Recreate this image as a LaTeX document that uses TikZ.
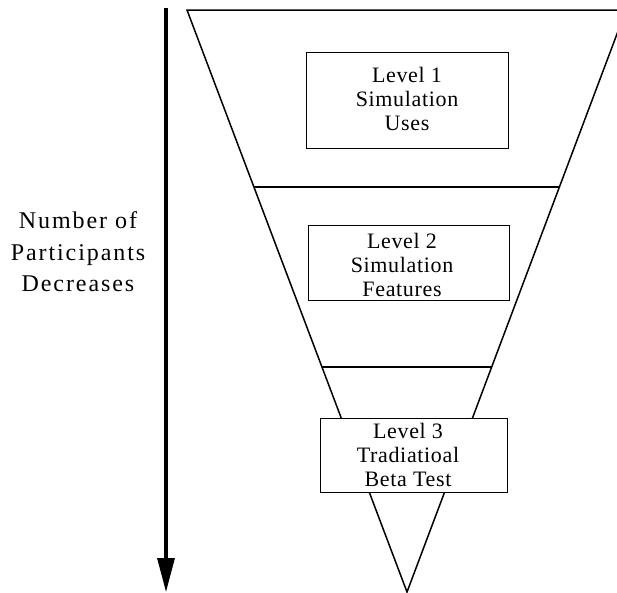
\documentclass[tikz,border=0pt]{standalone}
\usepackage{fontspec}
\setmainfont{Liberation Serif}
\newfontfamily\boxfont[LetterSpace=3]{Liberation Serif}
\newfontfamily\sidefont[LetterSpace=8]{Liberation Serif}
\usetikzlibrary{calc,arrows.meta}
\tikzset{
  levelbox/.style={draw, line width=1.3pt, fill=white, inner sep=0pt, anchor=north west},
  leveltext/.style={align=center, inner sep=0pt, font=\boxfont\fontsize{22}{24}\selectfont},
  funnel/.style={line width=1.5pt, line join=miter},
  divider/.style={line width=2pt},
}
\begin{document}
\begin{tikzpicture}[x=1pt,y=-1pt]
\useasboundingbox (0,0) rectangle (617,592);
\clip (0,0) rectangle (617,592);
% funnel
\coordinate (tl) at (187,10);
\coordinate (tr) at (626,10);
\coordinate (ap) at (407,592);
\draw[funnel] (tl) -- (tr) -- (ap) -- cycle;
\coordinate (d1l) at ($(tl)!0.304!(ap)$);
\coordinate (d1r) at ($(tr)!0.304!(ap)$);
\coordinate (d2l) at ($(tl)!0.613!(ap)$);
\coordinate (d2r) at ($(tr)!0.613!(ap)$);
\draw[divider] (d1l) -- (d1r);
\draw[divider] (d2l) -- (d2r);
% boxes
\node[levelbox, minimum width=202, minimum height=96] (b1) at (306,52) {};
\node[levelbox, minimum width=201, minimum height=75] (b2) at (308,225) {};
\node[levelbox, minimum width=187, minimum height=74] (b3) at (320,418) {};
\node[leveltext] (t1) at (407,99) {Level 1\\Simulation\\Uses};
\node[leveltext] (t2) at (402,265) {Level 2\\Simulation\\Features};
\node[leveltext] (t3) at (408,455) {Level 3\\Tradiatioal\\Beta Test};
% arrow
\coordinate (atop) at (166,8);
\coordinate (abot) at (166,592);
\draw[line width=3.2pt, -{Triangle[length=34pt,width=17pt]}] (atop) -- (abot);
\node[align=center, inner sep=0pt, font=\sidefont\fontsize{24}{31.5}\selectfont] (side) at (78,252) {Number of\\Participants\\Decreases};
\end{tikzpicture}
\end{document}
